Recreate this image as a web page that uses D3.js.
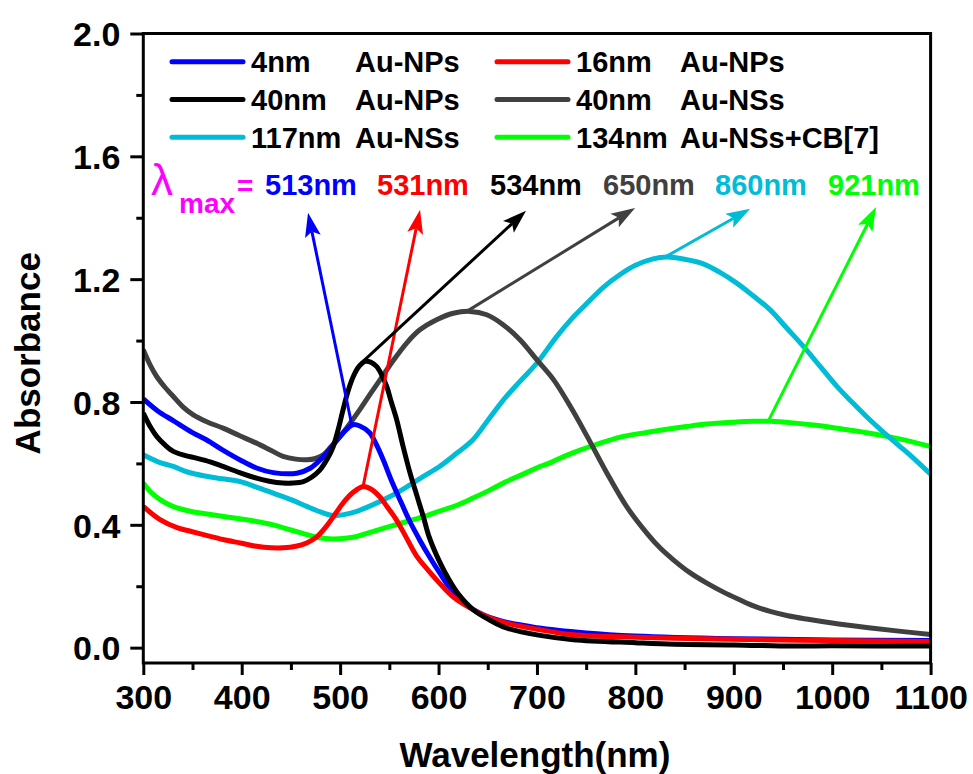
<!DOCTYPE html>
<html>
<head>
<meta charset="utf-8">
<script src="https://cdn.jsdelivr.net/npm/d3@7/dist/d3.min.js"></script>
<style>
  body { margin: 0; background: #fff; }
  svg { display: block; font-family: "Liberation Sans", Arial, sans-serif; font-weight: bold; }
</style>
</head>
<body>
<div id="chart"></div>
<script>
// spectra, [wavelength nm, absorbance]
var au4np = [[300,0.81],[315,0.77],[330,0.74],[350,0.70],[364,0.677],[380,0.645],[398,0.612],[415,0.585],
  [432,0.57],[456,0.568],[470,0.585],[480,0.612],[490,0.648],[500,0.688],[508,0.715],[513,0.726],[520,0.722],
  [530,0.70],[537,0.66],[544,0.61],[552,0.545],[561,0.48],[571,0.41],[581,0.35],[590,0.30],[601,0.244],
  [615,0.18],[635,0.125],[660,0.09],[700,0.065],[750,0.048],[800,0.038],[900,0.029],[1000,0.025],[1100,0.023]];
var au16np = [[300,0.46],[317,0.417],[335,0.39],[348,0.379],[365,0.365],[381,0.352],[400,0.34],[415,0.33],
  [430,0.325],[442,0.325],[455,0.33],[466,0.341],[476,0.36],[486,0.395],[495,0.435],[503,0.471],[513,0.505],
  [523.6,0.525],[532,0.515],[540,0.492],[548,0.458],[557,0.417],[567,0.36],[578,0.297],[590,0.25],[601,0.21],
  [615,0.165],[635,0.124],[650,0.1],[669,0.08],[700,0.06],[737,0.042],[800,0.034],[840,0.031],[900,0.027],
  [1000,0.023],[1100,0.02]];
var au40np = [[300,0.764],[307,0.72],[313.6,0.688],[322,0.66],[330.5,0.639],[342,0.626],[354,0.617],[368,0.605],
  [381,0.59],[398,0.57],[415,0.552],[428,0.542],[442,0.536],[452,0.536],[462.6,0.541],[471,0.555],[479.6,0.579],
  [487,0.615],[493,0.655],[498,0.71],[503,0.775],[508,0.835],[513.4,0.883],[519,0.915],[525.3,0.932],[531,0.93],
  [537,0.916],[542,0.89],[547.4,0.85],[552,0.8],[557.5,0.742],[564,0.655],[571,0.569],[578,0.495],[584.5,0.427],
  [590,0.365],[601,0.28],[610,0.225],[620,0.175],[635,0.124],[652,0.09],[669,0.064],[703,0.04],[737,0.026],
  [800,0.016],[840,0.011],[900,0.009],[960,0.005],[1000,0.006],[1100,0.005]];
var au40ns = [[300,0.97],[307,0.92],[313.6,0.883],[322,0.848],[330.5,0.818],[340,0.785],[350.8,0.758],[365,0.735],
  [381,0.715],[398,0.69],[415,0.666],[430,0.642],[442,0.623],[455,0.614],[466,0.612],[475,0.616],[483,0.628],
  [491,0.655],[500,0.688],[510,0.73],[520,0.775],[530,0.823],[540.5,0.872],[554,0.935],[567.6,0.992],[581,1.035],
  [598,1.068],[615,1.089],[632,1.095],[649,1.084],[666,1.051],[683,1.002],[700,0.937],[717,0.872],[734,0.785],
  [751,0.688],[771,0.569],[791,0.46],[811.6,0.373],[825,0.325],[838.6,0.286],[855,0.245],
  [872.6,0.21],[890,0.18],[906,0.156],[920,0.136],[937,0.118],[955,0.104],[974,0.093],[1000,0.08],[1037,0.065],
  [1070,0.053],[1100,0.043]];
var au117ns = [[300,0.628],[315,0.605],[330.5,0.59],[345,0.572],[364,0.558],[380,0.55],[398,0.541],[415,0.523],
  [432,0.503],[450,0.482],[466,0.46],[480,0.442],[493,0.43],[505,0.434],[517,0.444],[533,0.465],[550.7,0.492],
  [567,0.522],[584.6,0.558],[601,0.59],[618,0.632],[635,0.677],[650,0.74],[666,0.807],[683,0.868],[700,0.927],
  [720,1.013],[735,1.07],[751,1.122],[768,1.175],[784.5,1.215],[800,1.245],[818,1.266],[832,1.272],[850,1.265],
  [869,1.25],[886,1.222],[903,1.187],[920,1.145],[937,1.1],[954,1.04],[971,0.98],[988,0.915],[1005,0.85],
  [1020,0.8],[1035,0.752],[1052,0.702],[1069,0.655],[1085,0.61],[1100,0.565]];
var au134cb = [[300,0.536],[308,0.505],[317,0.482],[330,0.46],[347.6,0.444],[365,0.435],[381.6,0.427],[398,0.42],
  [415,0.411],[432,0.4],[449,0.384],[462,0.372],[473,0.362],[483,0.356],[493,0.354],[505,0.356],[517,0.362],
  [533,0.378],[550.7,0.395],[567,0.41],[584.6,0.427],[601,0.445],[618,0.463],[635,0.487],[652,0.513],[669,0.541],
  [686,0.565],[703,0.59],[712,0.6],[720,0.612],[737,0.635],[754,0.655],[770,0.672],[788,0.688],[810,0.7],
  [832,0.711],[852,0.72],[872.6,0.728],[900,0.734],[920,0.737],[937,0.737],[960,0.732],[984,0.724],[1010,0.712],
  [1035,0.7],[1068,0.68],[1100,0.655]];

var series = [au4np, au16np, au40np, au40ns, au117ns, au134cb];
var sizes = ["4nm", "16nm", "40nm", "40nm", "117nm", "134nm"];
var names = ["Au-NPs", "Au-NPs", "Au-NPs", "Au-NSs", "Au-NSs", "Au-NSs+CB[7]"];
var colors = ["#0000ff", "#ff0000", "#000000", "#404040", "#00bcd6", "#00ff00"];
var lambdaMax = ["513nm", "531nm", "534nm", "650nm", "860nm", "921nm"];
// arrow start (on the peak) and tip, in data units
var arrowFrom = [[511.8,0.726],[523.3,0.525],[523.3,0.932],[628.7,1.095],[830.2,1.272],[934.9,0.737]];
var arrowTo = [[467.4,1.416],[581.2,1.426],[688.9,1.423],[799.7,1.432],[916.6,1.429],[1044.6,1.435]];

var xTicks = [300, 400, 500, 600, 700, 800, 900, 1000, 1100];
var yTicks = [0.0, 0.4, 0.8, 1.2, 1.6, 2.0];

var W = 973, H = 774;
var pLeft = 143.3, pRight = 930.6, pTop = 33.5, pBottom = 663;

var svg = d3.select("#chart").append("svg").attr("width", W).attr("height", H);

var x = d3.scaleLinear().domain([300, 1100]).range([pLeft, pRight]);
var y = d3.scaleLinear().domain([-0.05, 2.0]).range([pBottom, pTop]);

svg.append("clipPath").attr("id", "clip")
  .append("rect").attr("x", pLeft).attr("y", pTop).attr("width", pRight - pLeft).attr("height", pBottom - pTop);

// minor ticks
var yMinor = [0.2, 0.6, 1.0, 1.4, 1.8];
var xMinor = [350, 450, 550, 650, 750, 850, 950, 1050];
svg.append("g").attr("transform", "translate(" + pLeft + ",0)")
  .call(d3.axisLeft(y).tickValues(yMinor).tickSize(7).tickSizeOuter(0).tickFormat(""))
  .call(function (g) { g.select(".domain").remove(); });
svg.append("g").attr("transform", "translate(0," + pBottom + ")")
  .call(d3.axisBottom(x).tickValues(xMinor).tickSize(7).tickSizeOuter(0).tickFormat(""))
  .call(function (g) { g.select(".domain").remove(); });

// major ticks with labels
var yAxis = svg.append("g").attr("transform", "translate(" + pLeft + ",0)")
  .call(d3.axisLeft(y).tickValues(yTicks).tickSize(13).tickPadding(10).tickFormat(d3.format(".1f")));
var xAxis = svg.append("g").attr("transform", "translate(0," + pBottom + ")")
  .call(d3.axisBottom(x).tickValues(xTicks).tickSize(12).tickPadding(10).tickFormat(d3.format("d")));
[yAxis, xAxis].forEach(function (g) {
  g.select(".domain").remove();
  g.selectAll("text").attr("fill", "#000").style("font-size", "34px").style("font-family", "inherit").style("font-weight", "bold");
});
yAxis.selectAll("text").attr("dy", "0.36em");
xAxis.selectAll("text").attr("dy", "0.71em");
svg.selectAll(".tick line").attr("stroke", "#000").attr("stroke-width", 3);

// curves
var line = d3.line()
  .x(function (d) { return x(d[0]); })
  .y(function (d) { return y(d[1]); })
  .curve(d3.curveCatmullRom.alpha(0.5));
var plot = svg.append("g").attr("clip-path", "url(#clip)");
var drawOrder = [5, 4, 3, 0, 1, 2];
drawOrder.forEach(function (i) {
  plot.append("path").datum(series[i])
    .attr("d", line)
    .attr("fill", "none")
    .attr("stroke", colors[i])
    .attr("stroke-width", 5)
    .attr("stroke-linejoin", "round");
});

// arrows
arrowFrom.forEach(function (a, i) {
  var x0 = x(a[0]), y0 = y(a[1]);
  var x1 = x(arrowTo[i][0]), y1 = y(arrowTo[i][1]);
  var ang = Math.atan2(y1 - y0, x1 - x0);
  var len = 24, hw = 8, notch = 5;
  var c = Math.cos(ang), s = Math.sin(ang);
  var bx = x1 - len * c, by = y1 - len * s;
  svg.append("line")
    .attr("x1", x0).attr("y1", y0)
    .attr("x2", x1 - (len - notch) * c).attr("y2", y1 - (len - notch) * s)
    .attr("stroke", colors[i]).attr("stroke-width", 3);
  var pts = [
    [x1, y1],
    [bx - hw * s, by + hw * c],
    [x1 - (len - notch) * c, y1 - (len - notch) * s],
    [bx + hw * s, by - hw * c]
  ];
  svg.append("path")
    .attr("d", "M" + pts.map(function (p) { return p[0] + "," + p[1]; }).join("L") + "Z")
    .attr("fill", colors[i]);
});

// frame
svg.append("rect")
  .attr("x", pLeft).attr("y", pTop).attr("width", pRight - pLeft).attr("height", pBottom - pTop)
  .attr("fill", "none").attr("stroke", "#000").attr("stroke-width", 3);

// legend
var legendX = [172, 497];
var legendY = [61.7, 99.5, 137.3];
series.forEach(function (s, i) {
  var col = i % 2, row = Math.floor(i / 2);
  var lx = legendX[col], ly = legendY[row];
  svg.append("line")
    .attr("x1", lx).attr("x2", lx + 71).attr("y1", ly).attr("y2", ly)
    .attr("stroke", colors[i]).attr("stroke-width", 5).attr("stroke-linecap", "round");
  svg.append("text").attr("x", lx + 79).attr("y", ly + 10.5)
    .style("font-size", "29px").text(sizes[i]);
  svg.append("text").attr("x", lx + 183).attr("y", ly + 10.5)
    .style("font-size", "29px").text(names[i]);
});

// lambda max labels
var lam = svg.append("g").attr("fill", "#ff00ff");
lam.append("text").attr("x", 151).attr("y", 195).style("font-size", "44px").style("font-weight", "normal").text("\u03bb");
lam.append("text").attr("x", 179).attr("y", 213).style("font-size", "28px").text("max");
lam.append("text").attr("x", 237).attr("y", 195).style("font-size", "28px").text("=");
var lamX = [265, 377, 490, 603, 715, 828];
lambdaMax.forEach(function (t, i) {
  svg.append("text").attr("x", lamX[i]).attr("y", 195)
    .attr("fill", colors[i]).style("font-size", "29px").text(t);
});

// axis titles
svg.append("text")
  .attr("transform", "translate(40," + ((pTop + pBottom) / 2 + 5) + ") rotate(-90)")
  .attr("text-anchor", "middle").style("font-size", "35px").text("Absorbance");
svg.append("text")
  .attr("x", (pLeft + pRight) / 2 - 2).attr("y", 767)
  .attr("text-anchor", "middle").style("font-size", "35px").text("Wavelength(nm)");
</script>
</body>
</html>
